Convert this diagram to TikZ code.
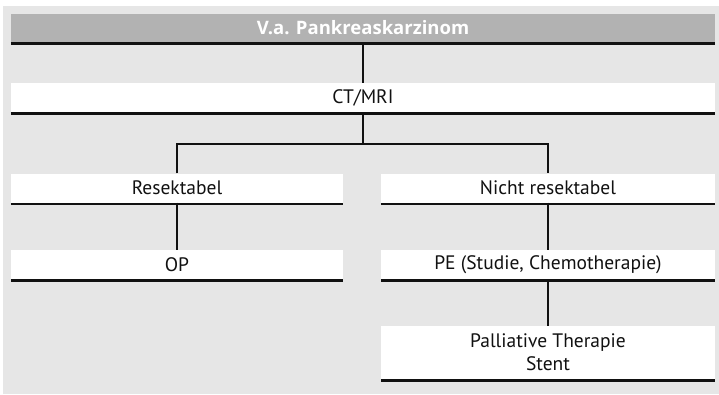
\documentclass[tikz,border=0pt]{standalone}
\usepackage{fontspec}
\setmainfont{PT Sans}
\newfontfamily\headfont{Open Sans}
\usepackage{xcolor}
\definecolor{panelgray}{HTML}{E6E6E6}
\definecolor{headgray}{HTML}{B2B2B2}
\definecolor{inkblack}{HTML}{111111}

\begin{document}
\begin{tikzpicture}[x=1pt, y=1pt,
    box/.style={rectangle, fill=white, inner sep=0pt, minimum height=29pt, text=inkblack, align=center, font=\fontsize{19.5}{23}\selectfont},
    head/.style={box, fill=headgray, text=white, minimum height=28pt, font=\headfont\fontsize{18.5}{21}\selectfont\bfseries},
    rule/.style={line width=2.6pt, inkblack},
    link/.style={line width=2.4pt, inkblack}
]
\useasboundingbox (0,0) rectangle (719,-394);
\fill[panelgray] (3,-6) rectangle (719,-394);

\node[head, minimum width=704pt] (title) at (363,-28)  {V.a. Pankreaskarzinom};
\node[box, minimum width=704pt]  (ct)    at (363,-97.5) {CT/MRI};
\node[box, minimum width=332pt]  (res)   at (177,-188)  {Resektabel};
\node[box, minimum width=334pt]  (nres)  at (548,-188)  {Nicht resektabel};
\node[box, minimum width=332pt]  (op)    at (177,-264.5) {OP};
\node[box, minimum width=334pt]  (pe)    at (548,-264.5) {PE (Studie, Chemotherapie)};
\node[box, minimum width=334pt, minimum height=53pt] (pall) at (548,-352.5) {Palliative Therapie\\Stent};

% bottom rules
\foreach \n in {title,ct,res,nres,op,pe,pall}
  \draw[rule] ([yshift=-1.3pt]\n.south west) -- ([yshift=-1.3pt]\n.south east);

\coordinate (fork) at (363,-144);
\draw[link] (title.south) -- (ct.north);
\draw[link] (ct.south) -- (fork);
\draw[link] (res.north) |- (fork) -| (nres.north);
\draw[link] (res.south) -- (op.north);
\draw[link] (nres.south) -- (pe.north);
\draw[link] (pe.south) -- (pall.north);
\end{tikzpicture}
\end{document}
